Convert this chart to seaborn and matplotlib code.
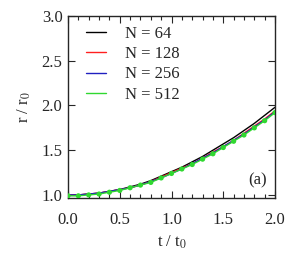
import matplotlib
matplotlib.use("Agg")
import matplotlib.pyplot as plt
import pandas as pd
import seaborn as sns
from matplotlib.ticker import MultipleLocator, FormatStrFormatter

t = [0.0, 0.1, 0.2, 0.3, 0.4, 0.5, 0.6, 0.7, 0.8, 0.9, 1.0,
     1.1, 1.2, 1.3, 1.4, 1.5, 1.6, 1.7, 1.8, 1.9, 2.0]

r_64 = [1.00, 1.00, 1.01, 1.02, 1.04, 1.06, 1.09, 1.12, 1.16, 1.21, 1.26,
        1.31, 1.37, 1.43, 1.50, 1.57, 1.64, 1.72, 1.80, 1.89, 1.98]
r_128 = [1.00, 1.00, 1.01, 1.02, 1.04, 1.06, 1.08, 1.11, 1.15, 1.20, 1.25,
         1.30, 1.35, 1.41, 1.48, 1.54, 1.61, 1.69, 1.77, 1.85, 1.94]
r_256 = [1.00, 1.00, 1.01, 1.02, 1.04, 1.06, 1.08, 1.11, 1.15, 1.19, 1.24,
         1.29, 1.35, 1.41, 1.47, 1.54, 1.61, 1.68, 1.76, 1.84, 1.93]
r_512 = [0.99, 0.99, 1.00, 1.01, 1.03, 1.05, 1.08, 1.11, 1.14, 1.19, 1.24,
         1.29, 1.34, 1.40, 1.46, 1.53, 1.60, 1.67, 1.75, 1.83, 1.92]

labels = ["N = 64", "N = 128", "N = 256", "N = 512"]
colors = ["black", "#ff2020", "#2020c0", "#30d830"]

df = pd.concat([
    pd.DataFrame({"t": t, "r": r, "run": lab})
    for r, lab in zip([r_64, r_128, r_256, r_512], labels)
])

sns.set_style("ticks")
plt.rcParams["font.family"] = ["Liberation Serif", "DejaVu Serif"]
plt.rcParams["mathtext.fontset"] = "stix"

fig = plt.figure(figsize=(2.97, 2.59), dpi=100)
ax = fig.add_axes([0.229, 0.236, 0.697, 0.702])

sns.lineplot(data=df, x="t", y="r", hue="run", palette=colors, linewidth=1.0, ax=ax)
sns.scatterplot(x=t, y=r_512, color=colors[3], s=14, edgecolor="none", ax=ax, legend=False, zorder=3)

ax.set_xlim(0, 2.0)
ax.set_ylim(0.967, 3.0)
ax.xaxis.set_major_locator(MultipleLocator(0.5))
ax.xaxis.set_minor_locator(MultipleLocator(0.1))
ax.yaxis.set_major_locator(MultipleLocator(0.5))
ax.tick_params(which="both", direction="in", top=True, right=True, labelsize=12, width=0.8)
ax.tick_params(which="major", length=5)
ax.tick_params(which="minor", length=3)
ax.tick_params(axis="x", pad=10)
ax.tick_params(axis="y", pad=4)
ax.xaxis.set_major_formatter(FormatStrFormatter("%.1f"))
ax.yaxis.set_major_formatter(FormatStrFormatter("%.1f"))
for s in ax.spines.values():
    s.set_linewidth(1.0)

ax.set_xlabel("t / t$_0$", fontsize=12, labelpad=4)
ax.set_ylabel("r / r$_0$", fontsize=12, labelpad=6)
ax.text(0.96, 0.05, "(a)", transform=ax.transAxes, ha="right", va="bottom", fontsize=12)

ax.legend(loc="upper left", bbox_to_anchor=(0.04, 1.0), frameon=False, fontsize=12,
          handlelength=1.2, handletextpad=1.1, labelspacing=0.25, borderaxespad=0.2)

plt.savefig("out.png", dpi=100)
